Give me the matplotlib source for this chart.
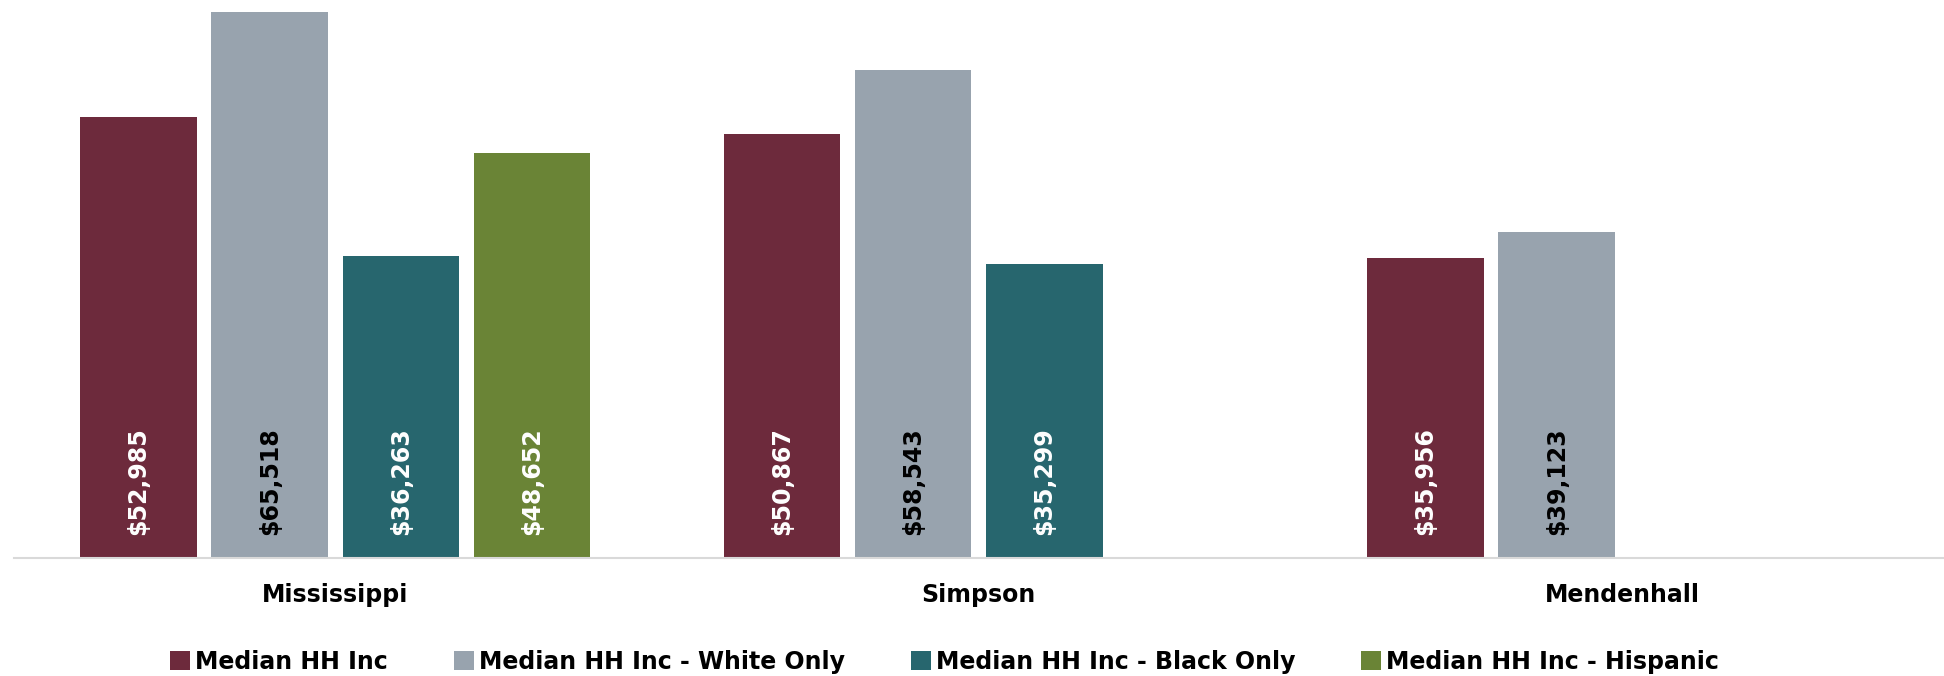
import numpy as np
import matplotlib
matplotlib.use('Agg')
import matplotlib.pyplot as plt
from matplotlib.patches import Patch

# ── Data ──────────────────────────────────────────────────────────────────────
places = ['Mississippi', 'Simpson', 'Mendenhall']
series = ['Median HH Inc', 'Median HH Inc - White Only',
          'Median HH Inc - Black Only', 'Median HH Inc - Hispanic']
inc_all      = [52985, 50867, 35956]
inc_white    = [65518, 58543, 39123]
inc_black    = [36263, 35299, np.nan]
inc_hispanic = [48652, np.nan, np.nan]

COLORS = ['#6d2a3c', '#98a3ae', '#27666e', '#6a8436']
TXT    = ['white', 'black', 'white', 'white']

plt.rcParams['font.family'] = ['DejaVu Sans']

fig = plt.figure(figsize=(19.44, 6.76), dpi=100)
ax = fig.add_axes([0.007, 0.1746, 0.993, 0.8134])

x = np.arange(len(places))
step, width = 0.204, 0.181
for i, vals in enumerate([inc_all, inc_white, inc_black, inc_hispanic]):
    xs = x + (i - 1.5) * step
    ax.bar(xs, vals, width, color=COLORS[i])
    for xx, v in zip(xs, vals):
        if np.isnan(v):
            continue
        ax.text(xx, 2800, f'${v:,.0f}', rotation=90, ha='center', va='bottom',
                color=TXT[i], fontsize=17, fontweight='bold')

ax.set_xlim(-0.5, 2.5)
ax.set_ylim(0, 66000)
ax.set_xticks(x)
ax.set_xticklabels(places, fontsize=17, fontweight='bold')
ax.tick_params(axis='x', length=0, pad=18)
ax.set_yticks([])
for s in ['top', 'right', 'left']:
    ax.spines[s].set_visible(False)
ax.spines['bottom'].set_color('#d9d9d9')
ax.spines['bottom'].set_linewidth(1.5)

handles = [Patch(facecolor=c, label=l) for c, l in zip(COLORS, series)]
fig.legend(handles=handles, loc='center left', bbox_to_anchor=(0.0815, 0.021),
           ncol=4, frameon=False, prop={'size': 17, 'weight': 'bold'},
           handlelength=0.85, handleheight=0.85, handletextpad=0.2,
           columnspacing=2.8, borderpad=0)

fig.savefig('out.png', dpi=100)
